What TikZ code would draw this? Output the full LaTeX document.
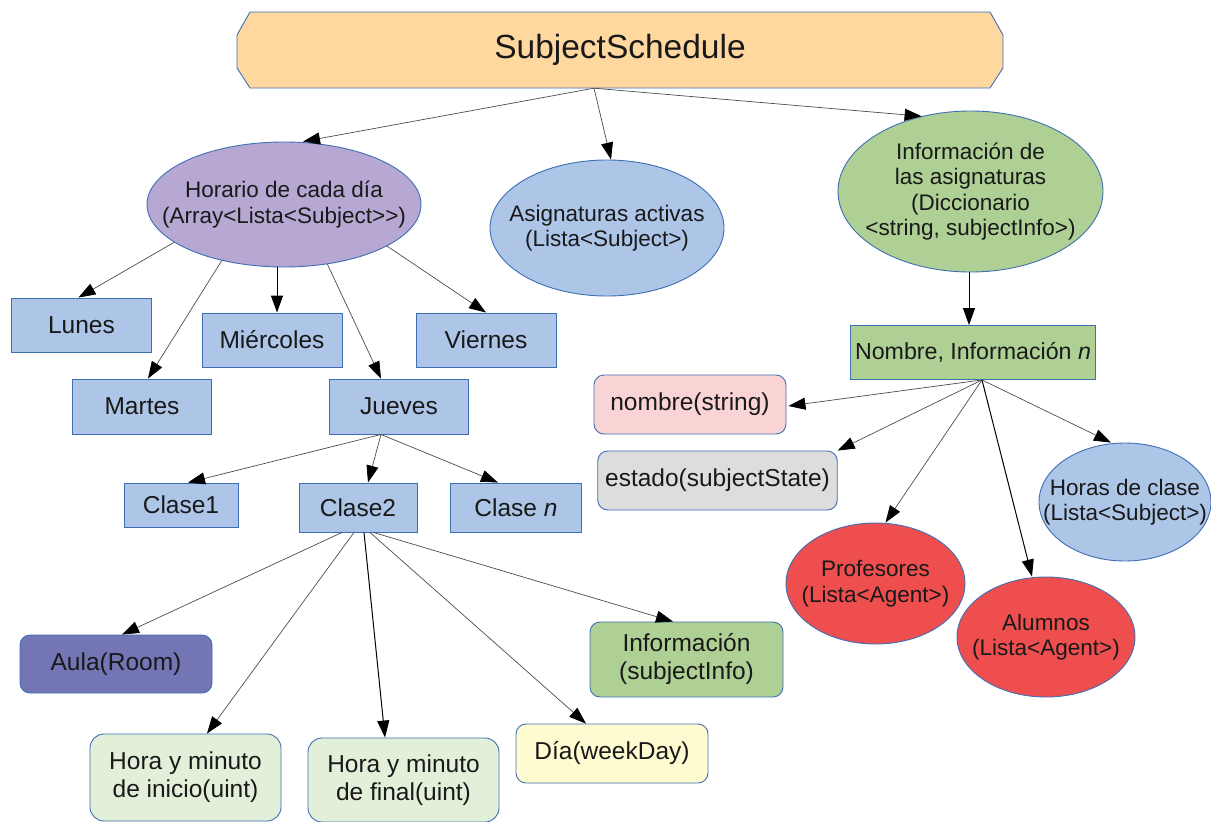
\documentclass[tikz,border=0pt]{standalone}
\usepackage{fontspec}
\setmainfont{Liberation Sans}
\usetikzlibrary{shapes.geometric,arrows.meta}

\definecolor{edgeblue}{HTML}{3F6EB3}
\definecolor{titlefill}{HTML}{FFD8A0}
\definecolor{lilac}{HTML}{B7A8D3}
\definecolor{skyfill}{HTML}{ADC5E7}
\definecolor{leaf}{HTML}{AFD095}
\definecolor{rose}{HTML}{FAD4D4}
\definecolor{ash}{HTML}{DDDDDD}
\definecolor{tomato}{HTML}{EF4E4E}
\definecolor{indigo}{HTML}{7375B5}
\definecolor{mint}{HTML}{E2EFD9}
\definecolor{cream}{HTML}{FFFBD0}

\tikzset{
  box/.style={rectangle, draw=edgeblue, line width=0.9pt, fill=skyfill,
    inner sep=0pt, align=center, text=black!90,
    font=\fontsize{24.5}{28}\selectfont},
  rbox/.style={box, rounded corners=10pt},
  oval/.style={ellipse, draw=edgeblue, line width=0.9pt, inner sep=0pt},
  ovaltext/.style={align=center, text=black!90, inner sep=0pt,
    font=\fontsize{22.5}{25.5}\selectfont},
  link/.style={draw=black!70, line width=0.7pt,
    -{Triangle[length=17pt,width=12pt,color=black]}},
  darklink/.style={link, draw=black, line width=1pt},
}

\begin{document}
\begin{tikzpicture}[x=1pt,y=-1pt]
\useasboundingbox (0,0) rectangle (1211,822);

% top banner with cut corners
\path[fill=titlefill, draw=edgeblue, line width=0.9pt]
  (237,35) -- (250,12) -- (990,12) -- (1003,35) -- (1003,68)
  -- (990,88) -- (250,88) -- (237,68) -- cycle;
\node[minimum width=766pt, minimum height=76pt, inner sep=0pt,
  font=\fontsize{33.5}{38}\selectfont, text=black!90] (title) at (620,50) {SubjectSchedule};

% first level
\node[oval, fill=lilac, minimum width=274pt, minimum height=125pt,
  label={[ovaltext]center:Horario de cada día\\(Array<Lista<Subject>{}>)}] (hor) at (284,204.5) {};
\node[oval, fill=skyfill, minimum width=234pt, minimum height=136pt,
  label={[ovaltext]center:Asignaturas activas\\(Lista<Subject>)}] (asig) at (607,228) {};
\node[oval, fill=leaf, minimum width=265pt, minimum height=161pt,
  label={[ovaltext]center:Información de\\las asignaturas\\(Diccionario\\<string, subjectInfo>)}] (info) at (970.5,191.5) {};

% week days
\node[box, minimum width=139.5pt, minimum height=54pt] (lun) at (81.5,325) {Lunes};
\node[box, minimum width=140pt, minimum height=54pt] (mie) at (272,340) {Miércoles};
\node[box, minimum width=140pt, minimum height=54pt] (vie) at (486,340) {Viernes};
\node[box, minimum width=138.5pt, minimum height=55pt] (mar) at (142,406.5) {Martes};
\node[box, minimum width=139.5pt, minimum height=55pt] (jue) at (399,406.5) {Jueves};

% classes of a day
\node[box, minimum width=114pt, minimum height=44pt] (c1) at (181,505) {Clase1};
\node[box, minimum width=118pt, minimum height=49pt] (c2) at (358,507.5) {Clase2};
\node[box, minimum width=131.5pt, minimum height=49pt] (cn) at (516,507.5) {Clase \textit{n}};

% fields of a class
\node[rbox, fill=indigo, minimum width=192pt, minimum height=58pt] (aula) at (116,664) {Aula(Room)};
\node[rbox, fill=mint, rounded corners=14pt, minimum width=191pt, minimum height=87pt] (hini) at (185.5,777.5)
  {Hora y minuto\\de inicio(uint)};
\node[rbox, fill=mint, rounded corners=14pt, minimum width=191pt, minimum height=84pt] (hfin) at (403.5,780)
  {Hora y minuto\\de final(uint)};
\node[rbox, fill=cream, minimum width=192pt, minimum height=59pt] (dia) at (612,753.5) {Día(weekDay)};
\node[rbox, fill=leaf, minimum width=193pt, minimum height=75pt] (sinfo) at (686.5,659.5)
  {Información\\(subjectInfo)};

% subject information entries
\node[box, fill=leaf, minimum width=245pt, minimum height=54pt,
  font=\fontsize{23.2}{27}\selectfont] (nom) at (973,352.5)
  {Nombre, Información \textit{n}};
\node[rbox, fill=rose, minimum width=192pt, minimum height=59pt] (nstr) at (690,404.5) {nombre(string)};
\node[rbox, fill=ash, minimum width=239.5pt, minimum height=59pt] (est) at (717.5,480.5) {estado(subjectState)};
\node[oval, fill=skyfill, minimum width=172pt, minimum height=118pt,
  label={[ovaltext]center:Horas de clase\\(Lista<Subject>)}] (horas) at (1125,502) {};
\node[oval, fill=tomato, minimum width=179pt, minimum height=121pt,
  label={[ovaltext]center:Profesores\\(Lista<Agent>)}] (prof) at (875.5,583.5) {};
\node[oval, fill=tomato, minimum width=178pt, minimum height=120pt,
  label={[ovaltext]center:Alumnos\\(Lista<Agent>)}] (alum) at (1046,637) {};

% connectors from the banner
\draw[link] ([xshift=-26pt]title.south) -- ([xshift=19pt]hor.north);
\draw[link] ([xshift=-26pt]title.south) -- ([xshift=4pt]asig.north);
\draw[link] ([xshift=-26pt]title.south) -- (info.123);

% day schedule to week days
\draw[link] (hor.199) -- ([xshift=-3pt]lun.north);
\draw[link] (hor.222.6) -- ([xshift=6pt]mar.north);
\draw[darklink] ([xshift=-7pt]hor.south) -- ([xshift=5pt]mie.north);
\draw[link] (hor.306.6) -- ([xshift=-18pt]jue.north);
\draw[link] (hor.338.7) -- (vie.north);

% Thursday to its classes
\draw[link] ([xshift=-18pt]jue.south) -- ([xshift=7pt]c1.north);
\draw[link] ([xshift=-18pt]jue.south) -- ([xshift=10pt]c2.north);
\draw[link] ([xshift=-18pt]jue.south) -- ([xshift=-18pt]cn.north);

% class fields
\draw[link] ([xshift=-16pt]c2.south) -- ([xshift=6pt]aula.north);
\draw[link] ([xshift=-4pt]c2.south) -- ([xshift=21.5pt]hini.north);
\draw[darklink] ([xshift=6pt]c2.south) -- ([xshift=-18.5pt]hfin.north);
\draw[link] ([xshift=12pt]c2.south) -- ([xshift=-26pt]dia.north);
\draw[link] ([xshift=15.5pt]c2.south) -- ([xshift=-13.5pt]sinfo.north);

% subject information
\draw[darklink] ([xshift=-1.5pt]info.south) -- ([xshift=-4pt]nom.north);
\draw[link] ([xshift=9pt]nom.south) -- ([xshift=2pt,yshift=-1.5pt]nstr.east);
\draw[link] ([xshift=9pt]nom.south) -- (est.north east);
\draw[link] ([xshift=9pt]nom.south) -- ([xshift=10pt]prof.north);
\draw[darklink] ([xshift=9pt]nom.south) -- ([xshift=-14pt]alum.north);
\draw[link] ([xshift=9pt]nom.south) -- ([xshift=-14pt]horas.north);
\end{tikzpicture}
\end{document}
